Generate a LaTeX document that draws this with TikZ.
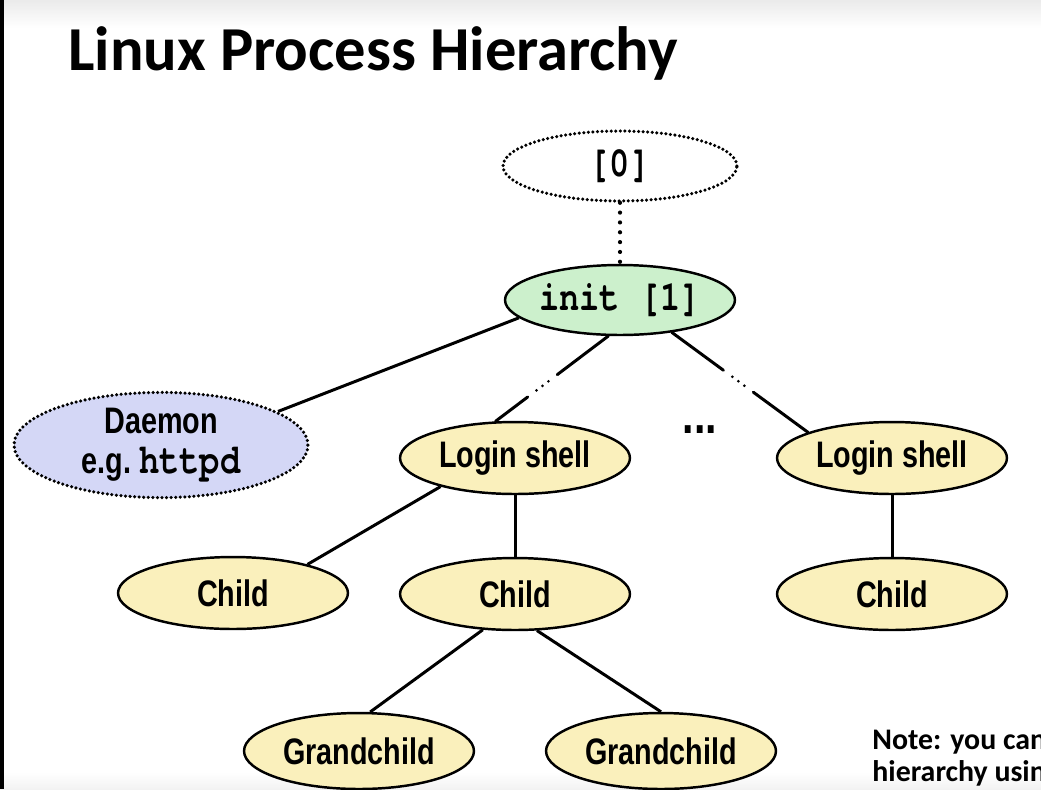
\documentclass[tikz,border=0pt]{standalone}
\usepackage{fontspec}
\setmainfont{Liberation Sans}[FakeStretch=0.78]
\setmonofont{texgyrecursor}[Extension=.otf, UprightFont=*-regular, BoldFont=*-bold, FakeStretch=0.8]
\newfontfamily\slidefont{Carlito}
\usetikzlibrary{shapes.geometric}

\definecolor{initgreen}{RGB}{204,240,204}
\definecolor{shellyellow}{RGB}{250,240,188}
\definecolor{daemonblue}{RGB}{212,215,246}

\tikzset{
  proc/.style={ellipse, draw, line width=1.4pt, inner sep=0pt,
    minimum width=4.6cm, minimum height=1.44cm,
    font=\fontsize{21}{23}\selectfont\bfseries},
  shell/.style={proc, fill=shellyellow},
  pid/.style={font=\fontsize{24}{24}\selectfont\ttfamily\bfseries},
  ghost/.style={dash pattern=on 0pt off 2.6pt, line cap=round, line width=2pt},
  wire/.style={line width=1.7pt},
  faint/.style={line width=2.4pt, line cap=round, dash pattern=on 0pt off 5.6pt},
  broken/.style={wire, line cap=round,
    dash pattern=on 1.28cm off 0.22cm on 0cm off 0.15cm on 0cm off 0.15cm on 0cm off 0.22cm on 3cm}
}

\begin{document}
\begin{tikzpicture}[x=0.02cm, y=-0.02cm]
  \useasboundingbox (0,0) rectangle (1041,789);
  \clip (0,0) rectangle (1041,789);
  \shade[top color=black!8, bottom color=white] (0,0) rectangle (1041,28);
  \shade[top color=white, bottom color=black!5] (0,772) rectangle (1041,789);
  \fill[black] (0,0) rectangle (4,789);

  \node[anchor=base west, inner sep=0pt, font=\slidefont\fontsize{35.6}{40}\selectfont\bfseries] (title) at (68,70) {Linux Process Hierarchy};

  % processes
  \node[proc, ghost, pid, minimum width=4.68cm, minimum height=1.4cm] (zero) at (620,166) {[0]};
  \node[proc, pid, fill=initgreen, minimum height=1.4cm] (init) at (620,300) {init [1]};
  \node[proc, ghost, fill=daemonblue, minimum width=5.88cm, minimum height=1.94cm, align=center] (daemon) at (161,445) {Daemon\\e.g.\ {\fontsize{24}{23}\selectfont\ttfamily httpd}};
  \node[shell] (lsh1) at (515,458) {Login shell};
  \node[shell] (lsh2) at (892,458) {Login shell};
  \node[shell] (ch1) at (233,593) {Child};
  \node[shell] (ch2) at (515,594) {Child};
  \node[shell] (ch3) at (892,594) {Child};
  \node[shell, minimum height=1.52cm] (gc1) at (359,751) {Grandchild};
  \node[shell, minimum height=1.52cm] (gc2) at (661,751) {Grandchild};
  \node[inner sep=0pt, font=\fontsize{30}{30}\selectfont\bfseries] (more) at (700,430) {...};

  \draw[faint] (zero) -- (init);
  \draw[wire] (init.190) -- (daemon.16);
  \draw[broken] (init.252) -- (lsh1.118);
  \draw[broken] (init.328) -- (lsh2.163);
  \draw[wire] (lsh1.201) -- (ch1.21);
  \draw[wire] (lsh1) -- (ch2);
  \draw[wire] (lsh2) -- (ch3);
  \draw[wire] (ch2.228) -- (gc1.74);
  \draw[wire] (ch2.301) -- (gc2.90);

  \node[anchor=north west, inner sep=0pt, align=left, font=\slidefont\fontsize{17}{18.1}\selectfont\bfseries] (note) at (872,730) {Note: you can\\hierarchy using};
\end{tikzpicture}
\end{document}
